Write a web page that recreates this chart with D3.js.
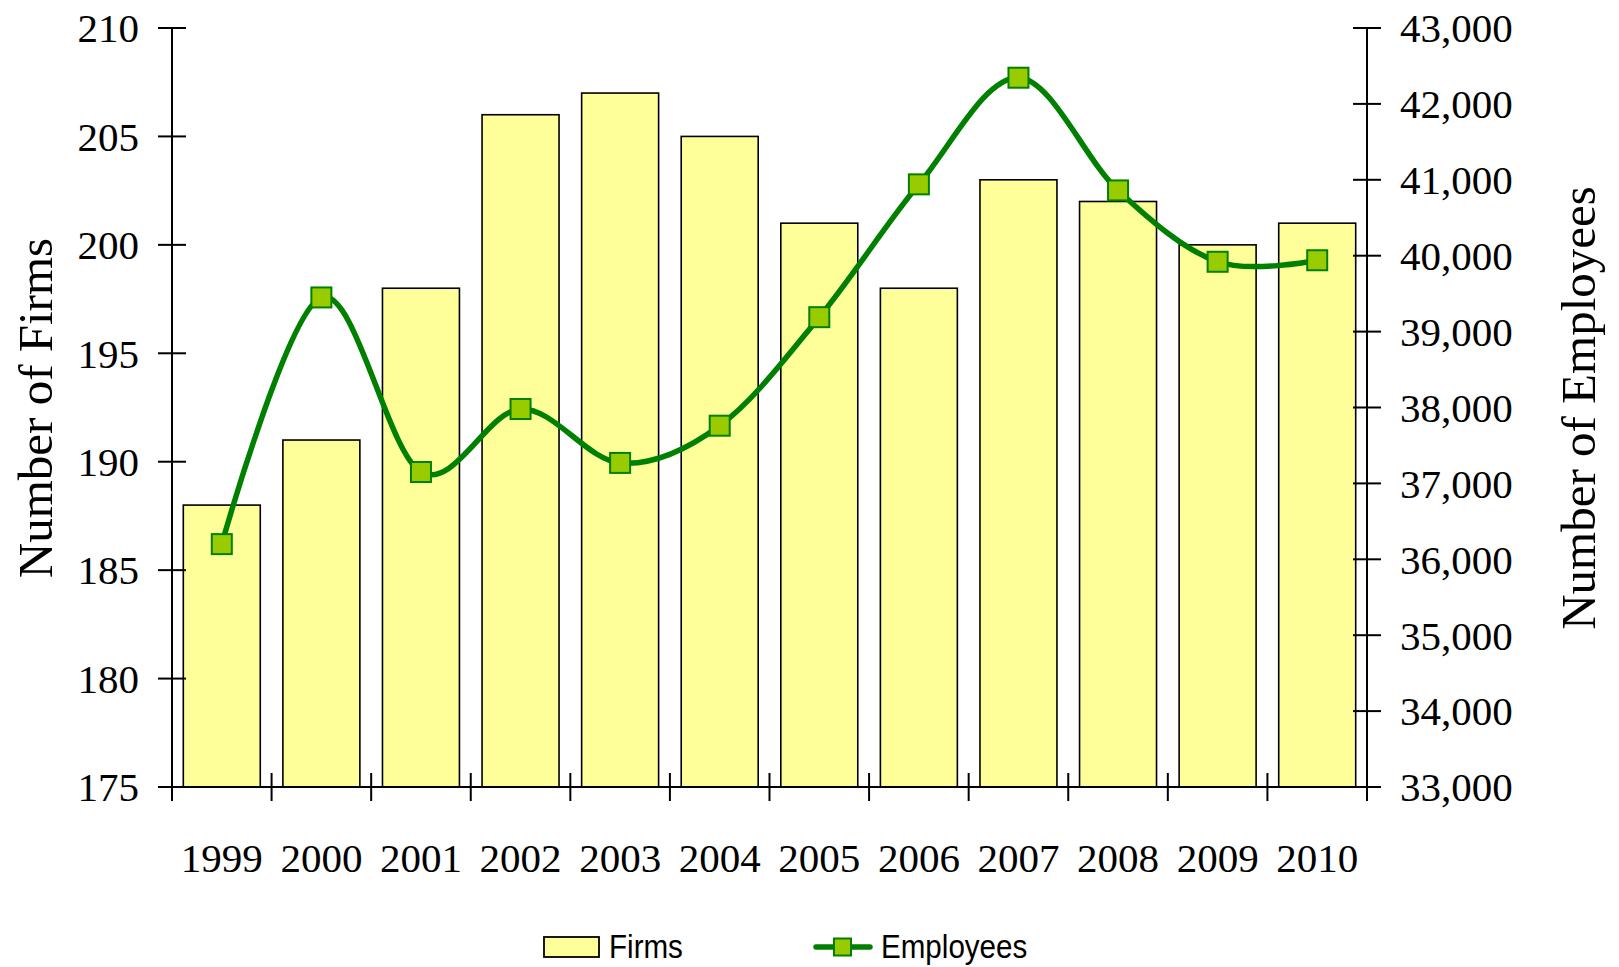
<!DOCTYPE html>
<html>
<head>
<meta charset="utf-8">
<script src="https://cdn.jsdelivr.net/npm/d3@7/dist/d3.min.js"></script>
<style>
  body { margin: 0; background: #fff; }
  .tick-label { font-family: "Liberation Serif", "DejaVu Serif", serif; font-size: 41px; fill: #000; }
  .axis-title { font-family: "Liberation Serif", "DejaVu Serif", serif; font-size: 49px; fill: #000; }
  .legend-text { font-family: "Liberation Sans", Arial, sans-serif; font-size: 34px; fill: #000; }
</style>
</head>
<body>
<svg width="1619" height="967"></svg>
<script>
// chart data
let years = ["1999","2000","2001","2002","2003","2004","2005","2006","2007","2008","2009","2010"];
let firms = [188, 191, 198, 206, 207, 205, 201, 198, 203, 202, 200, 201];
let employees = [36200, 39450, 37150, 37980, 37270, 37760, 39190, 40940, 42345, 40860, 39920, 39940];
let firmTicks = [175, 180, 185, 190, 195, 200, 205, 210];
let empTicks = [33000, 34000, 35000, 36000, 37000, 38000, 39000, 40000, 41000, 42000, 43000];

let svg = d3.select("svg");

let plotLeft = 172, plotRight = 1367, plotTop = 28, plotBottom = 787;

let x = d3.scaleBand()
    .domain(years)
    .range([plotLeft, plotRight])
    .paddingInner(0.227)
    .paddingOuter(0.1135);

let yL = d3.scaleLinear().domain([175, 210]).range([plotBottom, plotTop]);
let yR = d3.scaleLinear().domain([33000, 43000]).range([plotBottom, plotTop]);

let fmt = d3.format(",");

// bars
svg.append("g").selectAll("rect")
    .data(years)
  .enter().append("rect")
    .attr("x", function(d) { return x(d); })
    .attr("y", function(d, i) { return yL(firms[i]); })
    .attr("width", x.bandwidth())
    .attr("height", function(d, i) { return yL(175) - yL(firms[i]); })
    .attr("fill", "#ffff99")
    .attr("stroke", "#000")
    .attr("stroke-width", 1.6);

// left axis
let gl = svg.append("g");
gl.append("line")
    .attr("x1", plotLeft).attr("x2", plotLeft)
    .attr("y1", yL(210)).attr("y2", yL(175))
    .attr("stroke", "#000").attr("stroke-width", 2);
gl.selectAll(".t").data(firmTicks).enter().append("line")
    .attr("x1", plotLeft - 14).attr("x2", plotLeft + 14)
    .attr("y1", function(d) { return yL(d); })
    .attr("y2", function(d) { return yL(d); })
    .attr("stroke", "#000").attr("stroke-width", 2);
gl.selectAll("text").data(firmTicks).enter().append("text")
    .attr("class", "tick-label")
    .attr("x", 139)
    .attr("y", function(d) { return yL(d); })
    .attr("dy", "0.35em")
    .attr("text-anchor", "end")
    .text(function(d) { return d; });

// right axis
let gr = svg.append("g");
gr.append("line")
    .attr("x1", plotRight).attr("x2", plotRight)
    .attr("y1", yR(43000)).attr("y2", yR(33000))
    .attr("stroke", "#000").attr("stroke-width", 2);
gr.selectAll(".t").data(empTicks).enter().append("line")
    .attr("x1", plotRight - 14).attr("x2", plotRight + 14)
    .attr("y1", function(d) { return yR(d); })
    .attr("y2", function(d) { return yR(d); })
    .attr("stroke", "#000").attr("stroke-width", 2);
gr.selectAll("text").data(empTicks).enter().append("text")
    .attr("class", "tick-label")
    .attr("x", 1400)
    .attr("y", function(d) { return yR(d); })
    .attr("dy", "0.35em")
    .text(function(d) { return fmt(d); });

// x axis
let gx = svg.append("g");
gx.append("line")
    .attr("x1", plotLeft - 14).attr("x2", plotRight + 14)
    .attr("y1", plotBottom).attr("y2", plotBottom)
    .attr("stroke", "#000").attr("stroke-width", 2);
let edges = years.map(function(d) { return x(d) - x.step() * x.paddingOuter(); });
edges.push(plotRight);
gx.selectAll(".t").data(edges).enter().append("line")
    .attr("x1", function(d) { return d; })
    .attr("x2", function(d) { return d; })
    .attr("y1", plotBottom - 14).attr("y2", plotBottom + 14)
    .attr("stroke", "#000").attr("stroke-width", 2);
gx.selectAll("text").data(years).enter().append("text")
    .attr("class", "tick-label")
    .attr("x", function(d) { return x(d) + x.bandwidth() / 2; })
    .attr("y", 872)
    .attr("text-anchor", "middle")
    .text(function(d) { return d; });

// axis titles
svg.append("text")
    .attr("class", "axis-title")
    .attr("transform", "translate(52,408) rotate(-90)")
    .attr("text-anchor", "middle")
    .text("Number of Firms");
svg.append("text")
    .attr("class", "axis-title")
    .attr("transform", "translate(1595,408) rotate(-90)")
    .attr("text-anchor", "middle")
    .text("Number of Employees");

// employees line
let line = d3.line()
    .x(function(d, i) { return x(years[i]) + x.bandwidth() / 2; })
    .y(function(d) { return yR(d); })
    .curve(d3.curveCatmullRom.alpha(0));

svg.append("path")
    .datum(employees)
    .attr("d", line)
    .attr("fill", "none")
    .attr("stroke", "#008000")
    .attr("stroke-width", 5.5);

svg.append("g").selectAll("rect")
    .data(employees)
  .enter().append("rect")
    .attr("x", function(d, i) { return x(years[i]) + x.bandwidth() / 2 - 10; })
    .attr("y", function(d) { return yR(d) - 10; })
    .attr("width", 20).attr("height", 20)
    .attr("fill", "#99cc00")
    .attr("stroke", "#008000")
    .attr("stroke-width", 2);

// legend
let lg = svg.append("g");
lg.append("rect")
    .attr("x", 544).attr("y", 937)
    .attr("width", 55).attr("height", 20)
    .attr("fill", "#ffff99").attr("stroke", "#000").attr("stroke-width", 1.8);
lg.append("text")
    .attr("class", "legend-text")
    .attr("transform", "translate(609,958) scale(0.87,1)")
    .text("Firms");
lg.append("line")
    .attr("x1", 816).attr("x2", 870)
    .attr("y1", 947).attr("y2", 947)
    .attr("stroke", "#008000").attr("stroke-width", 5.5)
    .attr("stroke-linecap", "round");
lg.append("rect")
    .attr("x", 834).attr("y", 938.5)
    .attr("width", 17).attr("height", 17)
    .attr("fill", "#99cc00").attr("stroke", "#008000").attr("stroke-width", 2);
lg.append("text")
    .attr("class", "legend-text")
    .attr("transform", "translate(881,958) scale(0.87,1)")
    .text("Employees");
</script>
</body>
</html>
